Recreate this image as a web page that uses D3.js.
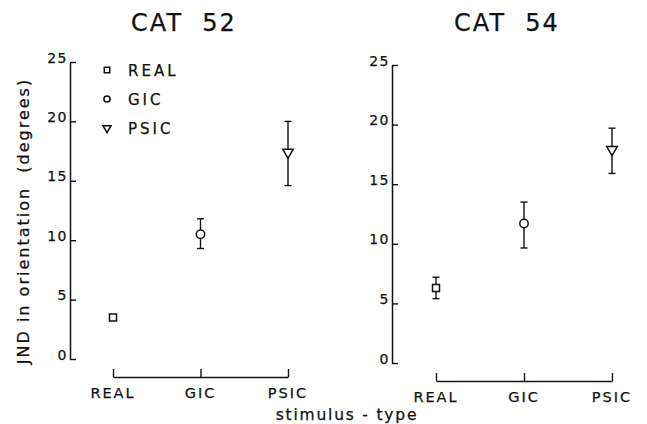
<!DOCTYPE html>
<html><head><meta charset="utf-8">
<script src="https://cdn.jsdelivr.net/npm/d3@7"></script>
<style>
body{margin:0;background:#fff;}
text{font-family:"DejaVu Sans",sans-serif;fill:#111;stroke:#111;stroke-width:0.25px;}
</style></head>
<body><svg id="c" width="647" height="424"></svg>
<script>
const categories = ["REAL","GIC","PSIC"];
const yTicks = [0,5,10,15,20,25];
const cat52Mean = [3.5, 10.5, 17.4];
const cat52Lo   = [3.5, 9.3, 14.6];
const cat52Hi   = [3.5, 11.8, 20.0];
const cat54Mean = [6.3, 11.7, 17.9];
const cat54Lo   = [5.4, 9.65, 15.9];
const cat54Hi   = [7.2, 13.5, 19.7];
const titles = ["CAT  52","CAT  54"];

const svg = d3.select("#c");
const ink = "#111";
const symbols = {
  REAL: d3.symbol().type(d3.symbolSquare).size(49),
  GIC: d3.symbol().type(d3.symbolCircle).size(55),
  PSIC: d3.symbol().type(d3.symbolTriangle).size(48)
};
const legendSymbols = {
  REAL: d3.symbol().type(d3.symbolSquare).size(30),
  GIC: d3.symbol().type(d3.symbolCircle).size(30),
  PSIC: d3.symbol().type(d3.symbolTriangle).size(28)
};

const panels = [
  {title: titles[0], mean: cat52Mean, lo: cat52Lo, hi: cat52Hi, ax: 70, y0: 359, y1: 62, xr: [113, 288], bracketY: 377, titleX: 184, legend: true},
  {title: titles[1], mean: cat54Mean, lo: cat54Lo, hi: cat54Hi, ax: 392, y0: 363, y1: 65, xr: [436, 612], bracketY: 381, titleX: 507, legend: false}
];

panels.forEach(p => {
  const y = d3.scaleLinear().domain([0,25]).range([p.y0, p.y1]);
  const x = d3.scalePoint().domain(categories).range(p.xr);
  const g = svg.append("g");

  g.append("text").attr("x", p.titleX).attr("y", 31).attr("text-anchor","middle")
    .style("font-size","24px").style("letter-spacing","2px").style("white-space","pre").text(p.title);

  const ya = g.append("g").attr("transform",`translate(${p.ax},0)`)
    .call(d3.axisLeft(y).tickValues(yTicks).tickSize(-6).tickSizeOuter(0).tickPadding(3));
  ya.select(".domain").attr("stroke", ink).attr("stroke-width",1.5);
  ya.selectAll(".tick line").attr("stroke", ink).attr("stroke-width",1.4);
  ya.selectAll(".tick text").attr("dy","0").attr("x",-2)
    .style("font-size","14px").style("letter-spacing","1.5px").style("font-family","DejaVu Sans, sans-serif")
    .attr("fill", ink);

  const xa = g.append("g").attr("transform",`translate(0,${p.bracketY})`)
    .call(d3.axisTop(x).tickSize(8).tickSizeOuter(0).tickFormat(""));
  xa.select(".domain").attr("stroke", ink).attr("stroke-width",1.5);
  xa.selectAll(".tick line").attr("stroke", ink).attr("stroke-width",1.4);
  g.selectAll(".xl").data(categories).join("text").attr("class","xl")
    .attr("x", d => x(d)).attr("y", p.bracketY + 21).attr("text-anchor","middle")
    .style("font-size","14.5px").style("letter-spacing","2px").text(d => d);

  const rows = categories.map((c,i) => ({c, m: p.mean[i], lo: p.lo[i], hi: p.hi[i]}));
  const eb = rows.filter(r => r.hi > r.lo);
  const capW = 3.5;
  g.selectAll(".ev").data(eb).join("line").attr("class","ev")
    .attr("x1", d => x(d.c)).attr("x2", d => x(d.c))
    .attr("y1", d => y(d.lo)).attr("y2", d => y(d.hi)).attr("stroke", ink).attr("stroke-width",1.4);
  ["lo","hi"].forEach(k => {
    g.selectAll(".cap"+k).data(eb).join("line").attr("class","cap"+k)
      .attr("x1", d => x(d.c)-capW).attr("x2", d => x(d.c)+capW)
      .attr("y1", d => y(d[k])).attr("y2", d => y(d[k])).attr("stroke", ink).attr("stroke-width",1.4);
  });
  g.selectAll(".pt").data(rows).join("path").attr("class","pt")
    .attr("d", d => symbols[d.c]())
    .attr("transform", d => `translate(${x(d.c)},${y(d.m)})` + (d.c === "PSIC" ? " rotate(180)" : ""))
    .attr("fill","#fff").attr("stroke", ink).attr("stroke-width",1.5);

  if (p.legend) {
    const lg = g.selectAll(".lg").data(categories).join("g").attr("class","lg")
      .attr("transform", (d,i) => `translate(107,${70 + i*29})`);
    lg.append("path").attr("d", d => legendSymbols[d]())
      .attr("transform", d => d === "PSIC" ? "rotate(180)" : null)
      .attr("fill","#fff").attr("stroke", ink).attr("stroke-width",1.5);
    lg.append("text").attr("x", 21).attr("y", 6).style("font-size","15px").style("letter-spacing","3px").text(d => d);
  }
});

svg.append("text").attr("transform","translate(29,221) rotate(-90)").attr("text-anchor","middle")
  .style("font-size","16px").style("letter-spacing","2px").style("white-space","pre").text("JND in orientation  (degrees)");
svg.append("text").attr("x", 347).attr("y", 420).attr("text-anchor","middle")
  .style("font-size","15.5px").style("letter-spacing","1.8px").text("stimulus - type");
</script></body></html>
